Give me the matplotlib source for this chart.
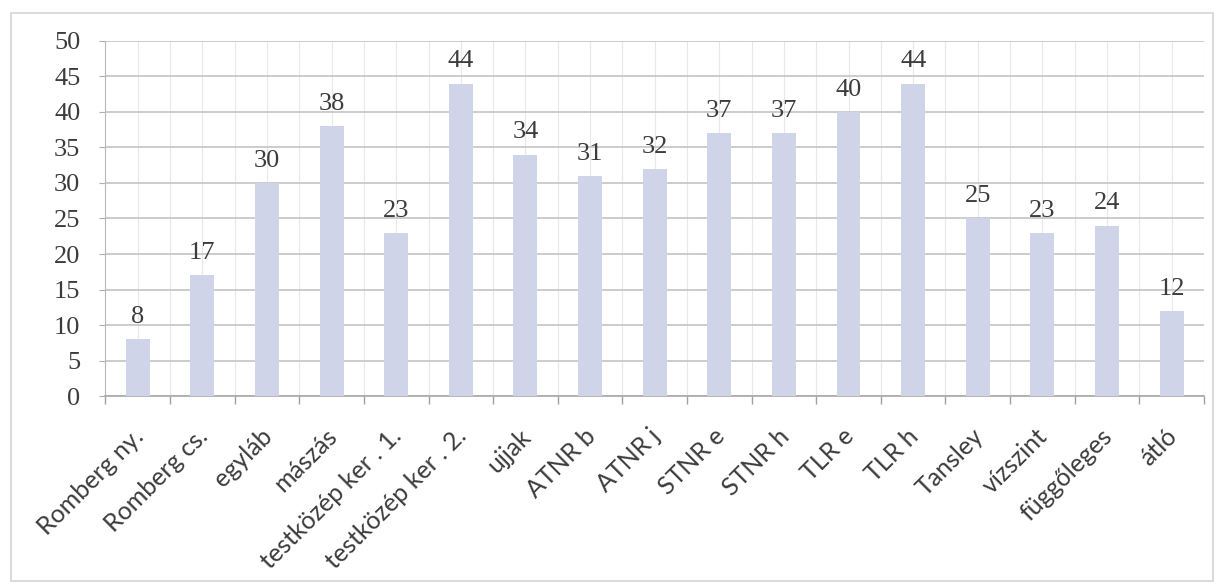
import matplotlib.pyplot as plt
import numpy as np
from matplotlib.patches import Rectangle

categories = ["Romberg ny.", "Romberg cs.", "egyláb", "mászás", "testközép ker . 1.",
              "testközép ker . 2.", "ujjak", "ATNR b", "ATNR j", "STNR e", "STNR h",
              "TLR e", "TLR h", "Tansley", "vízszint", "függőleges", "átló"]
values = [8, 17, 30, 38, 23, 44, 34, 31, 32, 37, 37, 40, 44, 25, 23, 24, 12]
y_ticks = [0, 5, 10, 15, 20, 25, 30, 35, 40, 45, 50]

text_col = '#3c3c3c'
bar_col = '#cfd4e8'

fig = plt.figure(figsize=(12.26, 5.85), dpi=100)
ax = fig.add_axes([0.086, 0.323, 0.896, 0.607])

x = np.arange(len(categories))
ax.bar(x, values, width=0.37, color=bar_col, zorder=3)

# value labels above bars
for xi, v in zip(x, values):
    ax.annotate(str(v), (xi, v), xytext=(0, 8), textcoords='offset points',
                ha='center', va='bottom', fontsize=19, color=text_col,
                family='Liberation Serif')

ax.set_xlim(-0.5, len(categories) - 0.5)
ax.set_ylim(0, 50)
ax.set_yticks(y_ticks)
ax.set_yticklabels([str(t) for t in y_ticks], family='Liberation Serif',
                   fontsize=19, color=text_col)

ax.grid(axis='y', color='#c4c4c4', linewidth=1.2, zorder=0)
for b in np.arange(-0.5, len(categories), 0.5):
    ax.axvline(b, color='#e8e8e8', linewidth=0.8, zorder=0)

ax.set_xticks(np.arange(-0.5, len(categories), 1))
ax.set_xticklabels([])
ax.tick_params(axis='x', length=6, color='#a0a0a0', width=1)
ax.tick_params(axis='y', length=4, color='#b0b0b0', pad=14)

# rotated category labels, right end near bar centre
for xi, lab in zip(x, categories):
    ax.text(xi - 0.1, -4.0, lab, rotation=45, ha='right', va='top',
            rotation_mode='anchor', fontsize=18, color=text_col, family='Lato')

for s in ['top', 'right']:
    ax.spines[s].set_visible(False)
ax.spines['left'].set_color('#b8b8b8')
ax.spines['bottom'].set_color('#a8a8a8')
ax.spines['bottom'].set_linewidth(1.2)

# outer chart frame
fig.patches.append(Rectangle((0.009, 0.006), 0.98, 0.972, transform=fig.transFigure,
                             fill=False, edgecolor='#d4d4d4', linewidth=1.2))

fig.savefig('out.png', dpi=100)
